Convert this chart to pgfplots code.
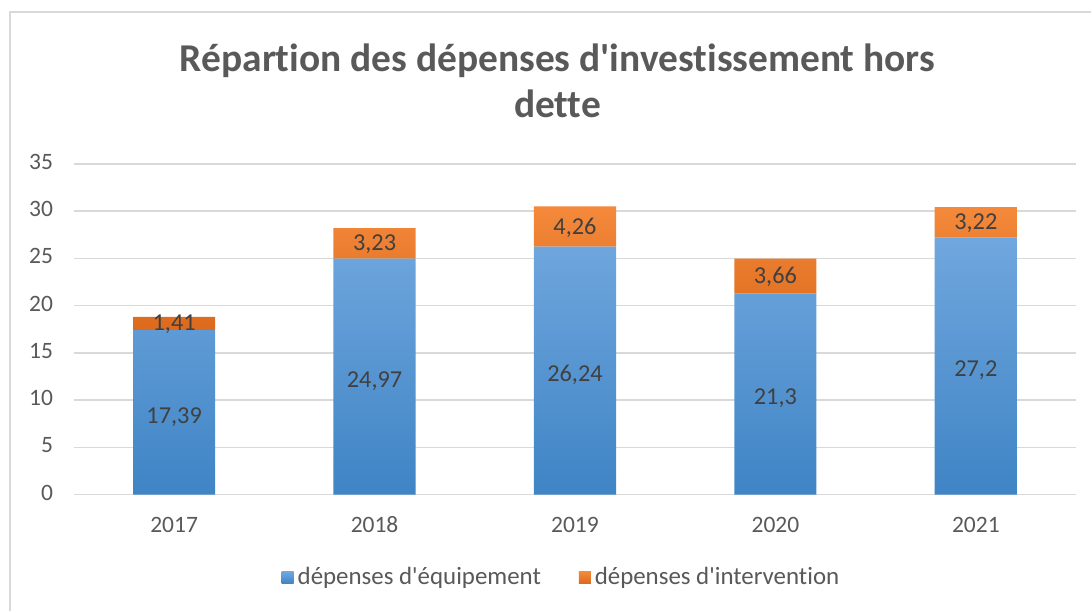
\documentclass[border=0pt]{standalone}
\usepackage{pgfplots}
\pgfplotsset{compat=1.18}
\usepackage{fontspec}
\setmainfont{Carlito}[Ligatures=NoCommon]

\definecolor{gridgray}{HTML}{D9D9D9}
\definecolor{txtgray}{HTML}{595959}
\definecolor{lblgray}{HTML}{404040}
\definecolor{blueT}{HTML}{70A7DE}
\definecolor{blueB}{HTML}{3F84C5}
\definecolor{orT}{HTML}{F4893C}
\definecolor{orB}{HTML}{DD6A1C}

\pgfplotsset{
  base/.style={
    scale only axis, width=501.5bp, height=165.5bp,
    xmin=-0.5, xmax=4.5, ymin=0, ymax=35, clip=false,
  },
  lbl/.style={draw=none, mark=none, nodes near coords, point meta=explicit symbolic,
    every node near coord/.append style={anchor=center, yshift=#1,
      font=\fontsize{12.2}{14}\selectfont, text=lblgray}},
}

\begin{document}
\begin{tikzpicture}
\begin{axis}[base, name=ax,
  ybar stacked, bar width=0.41,
  xtick={0,...,4}, xticklabels={2017,2018,2019,2020,2021},
  ytick={0,5,...,35},
  ymajorgrids, grid style={gridgray, line width=0.8bp},
  axis x line*=bottom, axis y line*=left,
  x axis line style={gridgray, line width=0.8bp, -},
  y axis line style={draw=none},
  major tick length=0pt,
  typeset ticklabels with strut,
  /pgf/number format/assume math mode=true,
  ticklabel style={font=\fontsize{11.8}{14}\selectfont, text=txtgray},
  yticklabel style={xshift=-7bp},
  xticklabel style={yshift=-5.5bp},
  legend style={at={(0.4875,-0.2508)}, anchor=center, draw=none,
    legend columns=2, font=\fontsize{12.5}{15}\selectfont, text=txtgray,
    /tikz/every even column/.append style={column sep=17bp}},
  legend image code/.code={\fill[#1] (-1.5bp,-3bp) rectangle (4.5bp,3bp);},
]
\addplot[draw=none, top color=blueT, bottom color=blueB] coordinates {
  (0,17.39) (1,24.97) (2,26.24) (3,21.3) (4,27.2)};
\addlegendentry{dépenses d\textquotesingle équipement}
\addplot[draw=none, top color=orT, bottom color=orB] coordinates {
  (0,1.41) (1,3.23) (2,4.26) (3,3.66) (4,3.22)};
\addlegendentry{dépenses d\textquotesingle intervention}
\end{axis}

% data labels, centred in each segment
\begin{axis}[base, at={(ax.south west)}, anchor=south west, hide axis]
\addplot[lbl=-2.2bp] table[meta=lab] {
x y lab
0 8.695 17,39
1 12.485 24,97
2 13.12 26,24
3 10.65 21,3
4 13.6 27,2
};
\addplot[lbl=-0.5bp] table[meta=lab] {
x y lab
0 18.095 1,41
1 26.585 3,23
2 28.37 4,26
3 23.13 3,66
4 28.81 3,22
};
\end{axis}

\begin{scope}[shift={(ax.south west)}, x=1bp, y=1bp]
\path (-37,-58.5) rectangle (509,247.5);
\draw[gridgray, line width=1bp] (-32,-58.5) -- (-32,241.5) -- (509,241.5);
\node[anchor=base, font=\bfseries\fontsize{19.8}{23}\selectfont, text=txtgray]
  at (242,211.5) {Répartion des dépenses d\textquotesingle investissement hors};
\node[anchor=base, font=\bfseries\fontsize{19.8}{23}\selectfont, text=txtgray]
  at (242,188.5) {dette};
\end{scope}
\end{tikzpicture}
\end{document}
